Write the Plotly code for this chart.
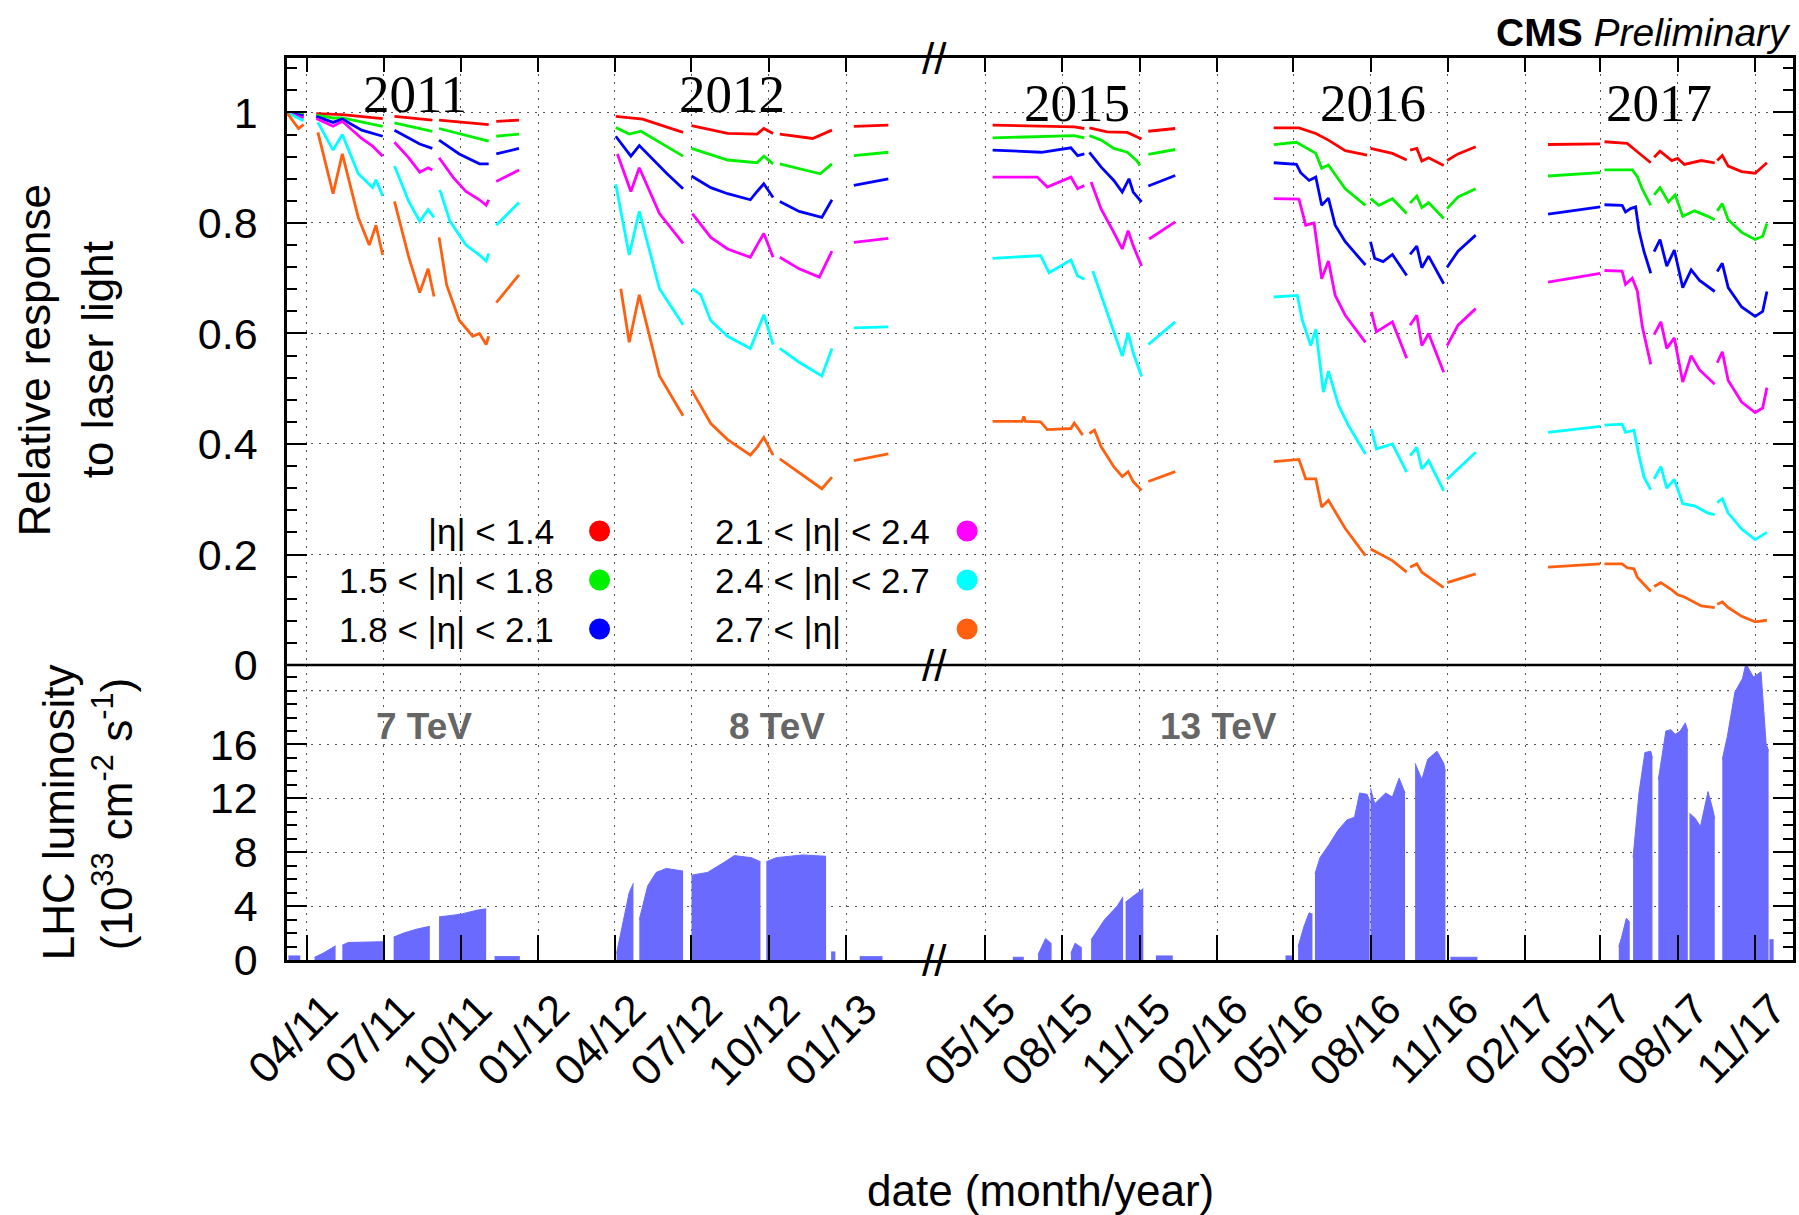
import plotly.graph_objects as go

# ---------------------------------------------------------------------------
# ECAL relative response to laser light per |eta| bin, and LHC luminosity
# ---------------------------------------------------------------------------
BIN_LABELS = ["|η| < 1.4", "1.5 < |η| < 1.8", "1.8 < |η| < 2.1",
              "2.1 < |η| < 2.4", "2.4 < |η| < 2.7", "2.7 < |η|"]
BIN_COLORS = ["#ff0000", "#00f000", "#0000ff", "#ff00ff", "#00ffff", "#ff6010"]

# (date, relative response); None separates data-taking periods
bin1_2011 = [("2011-03-08", 1.0), ("2011-03-28", 0.998), None,
             ("2011-04-12", 0.998), ("2011-05-13", 0.996), ("2011-06-30", 0.989), None,
             ("2011-07-14", 0.993), ("2011-08-28", 0.986), None,
             ("2011-09-05", 0.986), ("2011-11-03", 0.978), None,
             ("2011-11-12", 0.984), ("2011-12-09", 0.986)]
bin2_2011 = [("2011-03-08", 1.0), ("2011-03-28", 0.996), None,
             ("2011-04-12", 0.995), ("2011-05-02", 0.99), ("2011-05-13", 0.99), ("2011-06-30", 0.975), None,
             ("2011-07-14", 0.981), ("2011-08-28", 0.966), None,
             ("2011-09-05", 0.971), ("2011-11-03", 0.948), None,
             ("2011-11-12", 0.957), ("2011-12-09", 0.961)]
bin3_2011 = [("2011-03-08", 1.0), ("2011-03-28", 0.994), None,
             ("2011-04-12", 0.993), ("2011-05-02", 0.982), ("2011-05-13", 0.988), ("2011-06-05", 0.968),
             ("2011-06-30", 0.957), None,
             ("2011-07-14", 0.968), ("2011-08-13", 0.943), ("2011-08-28", 0.935), None,
             ("2011-09-05", 0.95), ("2011-09-29", 0.925), ("2011-10-23", 0.907), ("2011-11-03", 0.907), None,
             ("2011-11-12", 0.925), ("2011-12-09", 0.935)]
bin4_2011 = [("2011-03-08", 1.0), ("2011-03-28", 0.99), None,
             ("2011-04-12", 0.989), ("2011-05-02", 0.975), ("2011-05-13", 0.984), ("2011-06-05", 0.953),
             ("2011-06-18", 0.939), ("2011-06-30", 0.921), None,
             ("2011-07-14", 0.946), ("2011-07-31", 0.918), ("2011-08-13", 0.892), ("2011-08-23", 0.9),
             ("2011-08-28", 0.896), None,
             ("2011-09-05", 0.918), ("2011-09-22", 0.882), ("2011-10-07", 0.857), ("2011-10-23", 0.842),
             ("2011-10-31", 0.832), ("2011-11-03", 0.842), None,
             ("2011-11-12", 0.875), ("2011-12-09", 0.896)]
bin5_2011 = [("2011-03-08", 1.0), ("2011-03-28", 0.985), None,
             ("2011-04-14", 0.982), ("2011-05-02", 0.932), ("2011-05-13", 0.96), ("2011-06-01", 0.889),
             ("2011-06-18", 0.864), ("2011-06-22", 0.878), ("2011-06-30", 0.849), None,
             ("2011-07-14", 0.903), ("2011-07-31", 0.839), ("2011-08-13", 0.803), ("2011-08-23", 0.824),
             ("2011-08-30", 0.81), None,
             ("2011-09-06", 0.86), ("2011-09-18", 0.803), ("2011-10-07", 0.76), ("2011-10-23", 0.742),
             ("2011-10-31", 0.731), ("2011-11-03", 0.745), None,
             ("2011-11-12", 0.796), ("2011-12-09", 0.837)]
bin6_2011 = [("2011-03-08", 1.0), ("2011-03-22", 0.971), ("2011-03-28", 0.978), None,
             ("2011-04-14", 0.964), ("2011-05-02", 0.853), ("2011-05-13", 0.925), ("2011-06-01", 0.81),
             ("2011-06-14", 0.76), ("2011-06-22", 0.796), ("2011-06-30", 0.742), None,
             ("2011-07-14", 0.839), ("2011-07-31", 0.738), ("2011-08-13", 0.674), ("2011-08-23", 0.717),
             ("2011-08-30", 0.667), None,
             ("2011-09-05", 0.774), ("2011-09-14", 0.688), ("2011-09-29", 0.624), ("2011-10-15", 0.595),
             ("2011-10-23", 0.6), ("2011-10-31", 0.58), ("2011-11-03", 0.595), None,
             ("2011-11-12", 0.656), ("2011-12-09", 0.706)]

bin1_2012 = [("2012-04-02", 0.993), ("2012-05-04", 0.988), ("2012-06-21", 0.964), None,
             ("2012-07-01", 0.976), ("2012-08-13", 0.962), ("2012-09-17", 0.961), ("2012-09-25", 0.971),
             ("2012-10-06", 0.962), None,
             ("2012-10-14", 0.961), ("2012-11-22", 0.953), ("2012-12-15", 0.968), None,
             ("2013-01-10", 0.975), ("2013-02-20", 0.977)]
bin2_2012 = [("2012-04-02", 0.973), ("2012-04-18", 0.961), ("2012-05-02", 0.966), ("2012-06-21", 0.921), None,
             ("2012-07-01", 0.935), ("2012-08-13", 0.914), ("2012-09-17", 0.909), ("2012-09-25", 0.921),
             ("2012-10-06", 0.907), None,
             ("2012-10-14", 0.907), ("2012-12-01", 0.889), ("2012-12-15", 0.907), None,
             ("2013-01-10", 0.922), ("2013-02-20", 0.928)]
bin3_2012 = [("2012-04-02", 0.957), ("2012-04-20", 0.921), ("2012-04-30", 0.94), ("2012-06-02", 0.889),
             ("2012-06-21", 0.862), None,
             ("2012-07-01", 0.885), ("2012-07-24", 0.864), ("2012-08-13", 0.853), ("2012-09-09", 0.842),
             ("2012-09-17", 0.857), ("2012-09-25", 0.871), ("2012-10-06", 0.846), None,
             ("2012-10-14", 0.839), ("2012-11-06", 0.821), ("2012-12-03", 0.81), ("2012-12-15", 0.842), None,
             ("2013-01-10", 0.868), ("2013-02-20", 0.88)]
bin4_2012 = [("2012-04-04", 0.925), ("2012-04-20", 0.857), ("2012-04-30", 0.9), ("2012-05-24", 0.817),
             ("2012-06-21", 0.763), None,
             ("2012-07-02", 0.817), ("2012-07-24", 0.774), ("2012-08-13", 0.753), ("2012-09-09", 0.738),
             ("2012-09-17", 0.76), ("2012-09-25", 0.781), ("2012-10-06", 0.738), None,
             ("2012-10-14", 0.738), ("2012-11-06", 0.717), ("2012-11-30", 0.702), ("2012-12-05", 0.717),
             ("2012-12-15", 0.749), None,
             ("2013-01-10", 0.765), ("2013-02-20", 0.772)]
bin5_2012 = [("2012-04-02", 0.87), ("2012-04-08", 0.821), ("2012-04-18", 0.742), ("2012-04-30", 0.821),
             ("2012-05-24", 0.681), ("2012-06-21", 0.616), None,
             ("2012-07-02", 0.681), ("2012-07-12", 0.67), ("2012-07-24", 0.623), ("2012-08-13", 0.595),
             ("2012-09-09", 0.573), ("2012-09-17", 0.602), ("2012-09-25", 0.634), ("2012-10-06", 0.58), None,
             ("2012-10-14", 0.573), ("2012-11-06", 0.548), ("2012-12-03", 0.523), ("2012-12-15", 0.573), None,
             ("2013-01-10", 0.61), ("2013-02-20", 0.612)]
bin6_2012 = [("2012-04-08", 0.681), ("2012-04-18", 0.584), ("2012-04-30", 0.67), ("2012-05-24", 0.523),
             ("2012-06-21", 0.451), None,
             ("2012-07-01", 0.498), ("2012-07-24", 0.437), ("2012-08-13", 0.408), ("2012-09-09", 0.38),
             ("2012-09-17", 0.394), ("2012-09-25", 0.412), ("2012-10-06", 0.38), None,
             ("2012-10-14", 0.373), ("2012-11-06", 0.348), ("2012-12-03", 0.319), ("2012-12-15", 0.34), None,
             ("2013-01-10", 0.37), ("2013-02-20", 0.382)]

bin1_2015 = [("2015-05-10", 0.977), ("2015-06-16", 0.976), ("2015-08-15", 0.974), ("2015-08-27", 0.971), None,
             ("2015-09-02", 0.972), ("2015-09-23", 0.965), ("2015-10-17", 0.964), ("2015-10-24", 0.959),
             ("2015-11-03", 0.952), None,
             ("2015-11-11", 0.966), ("2015-12-13", 0.971)]
bin2_2015 = [("2015-05-10", 0.954), ("2015-08-15", 0.958), ("2015-08-27", 0.954), None,
             ("2015-09-02", 0.958), ("2015-09-16", 0.95), ("2015-10-01", 0.935), ("2015-10-17", 0.928),
             ("2015-10-28", 0.913), ("2015-11-01", 0.904), None,
             ("2015-11-11", 0.924), ("2015-12-13", 0.933)]
bin3_2015 = [("2015-05-10", 0.932), ("2015-07-07", 0.928), ("2015-08-11", 0.936), ("2015-08-19", 0.922),
             ("2015-08-27", 0.925), None,
             ("2015-09-02", 0.928), ("2015-09-16", 0.901), ("2015-10-01", 0.877), ("2015-10-11", 0.856),
             ("2015-10-19", 0.88), ("2015-10-24", 0.856), ("2015-11-03", 0.838), None,
             ("2015-11-11", 0.867), ("2015-12-13", 0.886)]
bin4_2015 = [("2015-05-10", 0.883), ("2015-07-02", 0.883), ("2015-07-14", 0.865), ("2015-08-11", 0.883),
             ("2015-08-19", 0.862), ("2015-08-27", 0.868), None,
             ("2015-09-04", 0.874), ("2015-09-16", 0.825), ("2015-10-01", 0.783), ("2015-10-11", 0.753),
             ("2015-10-18", 0.786), ("2015-10-24", 0.759), ("2015-11-03", 0.722), None,
             ("2015-11-12", 0.771), ("2015-12-13", 0.802)]
bin5_2015 = [("2015-05-10", 0.736), ("2015-07-06", 0.741), ("2015-07-16", 0.71), ("2015-08-11", 0.733),
             ("2015-08-19", 0.704), ("2015-08-27", 0.698), None,
             ("2015-09-06", 0.713), ("2015-09-16", 0.668), ("2015-10-01", 0.601), ("2015-10-11", 0.559),
             ("2015-10-18", 0.601), ("2015-10-24", 0.565), ("2015-11-03", 0.522), None,
             ("2015-11-11", 0.58), ("2015-12-13", 0.621)]
bin6_2015 = [("2015-05-10", 0.441), ("2015-06-14", 0.441), ("2015-06-16", 0.45), ("2015-06-18", 0.441),
             ("2015-07-06", 0.44), ("2015-07-14", 0.426), ("2015-08-11", 0.428), ("2015-08-15", 0.438),
             ("2015-08-25", 0.416), None,
             ("2015-09-02", 0.419), ("2015-09-08", 0.425), ("2015-09-16", 0.395), ("2015-10-01", 0.359),
             ("2015-10-11", 0.341), ("2015-10-18", 0.35), ("2015-10-24", 0.332), ("2015-11-03", 0.316), None,
             ("2015-11-11", 0.332), ("2015-12-13", 0.35)]

bin1_2016 = [("2016-04-08", 0.972), ("2016-05-08", 0.972), ("2016-05-28", 0.962), ("2016-06-12", 0.95),
             ("2016-07-02", 0.931), ("2016-07-28", 0.923), None,
             ("2016-08-01", 0.935), ("2016-08-27", 0.926), ("2016-09-13", 0.914), None,
             ("2016-09-17", 0.932), ("2016-09-25", 0.935), ("2016-10-01", 0.912), ("2016-10-09", 0.918),
             ("2016-10-27", 0.904), None,
             ("2016-10-31", 0.913), ("2016-11-13", 0.925), ("2016-12-04", 0.938)]
bin2_2016 = [("2016-04-08", 0.942), ("2016-05-05", 0.946), ("2016-05-28", 0.926), ("2016-06-04", 0.899),
             ("2016-06-12", 0.905), ("2016-07-02", 0.862), ("2016-07-26", 0.832), None,
             ("2016-08-01", 0.844), ("2016-08-11", 0.832), ("2016-08-27", 0.844), ("2016-09-13", 0.817), None,
             ("2016-09-17", 0.836), ("2016-09-25", 0.849), ("2016-10-01", 0.828), ("2016-10-09", 0.837),
             ("2016-10-27", 0.808), None,
             ("2016-10-31", 0.826), ("2016-11-13", 0.847), ("2016-12-04", 0.862)]
bin3_2016 = [("2016-04-08", 0.909), ("2016-05-05", 0.906), ("2016-05-10", 0.891), ("2016-05-20", 0.877),
             ("2016-05-28", 0.883), ("2016-06-04", 0.832), ("2016-06-12", 0.845), ("2016-06-20", 0.796),
             ("2016-07-02", 0.766), ("2016-07-26", 0.724), None,
             ("2016-08-01", 0.766), ("2016-08-06", 0.736), ("2016-08-16", 0.73), ("2016-08-27", 0.743),
             ("2016-09-13", 0.705), None,
             ("2016-09-17", 0.743), ("2016-09-25", 0.758), ("2016-10-01", 0.719), ("2016-10-09", 0.74),
             ("2016-10-27", 0.69), None,
             ("2016-10-31", 0.72), ("2016-11-13", 0.749), ("2016-12-04", 0.778)]
bin4_2016 = [("2016-04-08", 0.844), ("2016-05-08", 0.843), ("2016-05-16", 0.796), ("2016-05-26", 0.8),
             ("2016-06-04", 0.699), ("2016-06-12", 0.731), ("2016-06-20", 0.669), ("2016-07-02", 0.633),
             ("2016-07-26", 0.584), None,
             ("2016-08-02", 0.639), ("2016-08-08", 0.603), ("2016-08-27", 0.621), ("2016-09-13", 0.555), None,
             ("2016-09-17", 0.615), ("2016-09-25", 0.633), ("2016-10-01", 0.578), ("2016-10-09", 0.6),
             ("2016-10-27", 0.53), None,
             ("2016-10-31", 0.578), ("2016-11-13", 0.615), ("2016-12-04", 0.645)]
bin5_2016 = [("2016-04-08", 0.666), ("2016-05-06", 0.669), ("2016-05-12", 0.624), ("2016-05-22", 0.578),
             ("2016-05-28", 0.608), ("2016-06-06", 0.494), ("2016-06-12", 0.532), ("2016-06-24", 0.47),
             ("2016-07-06", 0.433), ("2016-07-26", 0.382), None,
             ("2016-08-02", 0.427), ("2016-08-08", 0.391), ("2016-08-27", 0.4), ("2016-09-13", 0.349), None,
             ("2016-09-17", 0.379), ("2016-09-25", 0.394), ("2016-10-01", 0.355), ("2016-10-09", 0.37),
             ("2016-10-27", 0.315), None,
             ("2016-10-31", 0.336), ("2016-11-13", 0.355), ("2016-12-04", 0.385)]
bin6_2016 = [("2016-04-08", 0.368), ("2016-05-08", 0.372), ("2016-05-16", 0.337), ("2016-05-28", 0.337),
             ("2016-06-04", 0.286), ("2016-06-12", 0.298), ("2016-07-02", 0.247), ("2016-07-26", 0.198), None,
             ("2016-08-01", 0.21), ("2016-08-27", 0.189), ("2016-09-13", 0.168), None,
             ("2016-09-17", 0.177), ("2016-09-25", 0.183), ("2016-10-01", 0.168), ("2016-10-27", 0.14), None,
             ("2016-10-31", 0.149), ("2016-11-13", 0.155), ("2016-12-04", 0.165)]

bin1_2017 = [("2017-02-28", 0.942), ("2017-05-01", 0.943), None,
             ("2017-05-06", 0.947), ("2017-06-02", 0.944), ("2017-06-14", 0.929), ("2017-06-30", 0.909), None,
             ("2017-07-04", 0.919), ("2017-07-11", 0.93), ("2017-07-25", 0.913), ("2017-08-01", 0.917),
             ("2017-08-09", 0.906), ("2017-08-29", 0.913), ("2017-09-14", 0.909), None,
             ("2017-09-17", 0.913), ("2017-09-23", 0.922), ("2017-09-30", 0.903), ("2017-10-16", 0.893),
             ("2017-11-01", 0.89), ("2017-11-15", 0.909)]
bin2_2017 = [("2017-02-28", 0.885), ("2017-05-01", 0.891), None,
             ("2017-05-06", 0.896), ("2017-06-08", 0.896), ("2017-06-14", 0.884), ("2017-06-20", 0.861),
             ("2017-06-30", 0.832), None,
             ("2017-07-04", 0.851), ("2017-07-11", 0.864), ("2017-07-21", 0.838), ("2017-07-29", 0.851),
             ("2017-08-07", 0.812), ("2017-08-21", 0.822), ("2017-09-06", 0.812), ("2017-09-14", 0.806), None,
             ("2017-09-17", 0.822), ("2017-09-23", 0.835), ("2017-09-30", 0.806), ("2017-10-16", 0.783),
             ("2017-11-01", 0.77), ("2017-11-10", 0.776), ("2017-11-15", 0.799)]
bin3_2017 = [("2017-02-28", 0.816), ("2017-05-01", 0.829), None,
             ("2017-05-06", 0.833), ("2017-05-27", 0.832), ("2017-05-31", 0.82), ("2017-06-06", 0.826),
             ("2017-06-12", 0.829), ("2017-06-16", 0.786), ("2017-06-22", 0.748), ("2017-06-30", 0.709), None,
             ("2017-07-04", 0.748), ("2017-07-11", 0.77), ("2017-07-19", 0.722), ("2017-07-28", 0.751),
             ("2017-08-07", 0.683), ("2017-08-17", 0.715), ("2017-08-27", 0.696), ("2017-09-14", 0.676), None,
             ("2017-09-17", 0.712), ("2017-09-23", 0.727), ("2017-09-30", 0.683), ("2017-10-16", 0.648),
             ("2017-11-01", 0.631), ("2017-11-10", 0.64), ("2017-11-15", 0.676)]
bin4_2017 = [("2017-02-28", 0.693), ("2017-05-01", 0.709), None,
             ("2017-05-06", 0.714), ("2017-05-27", 0.713), ("2017-05-31", 0.689), ("2017-06-08", 0.7),
             ("2017-06-14", 0.677), ("2017-06-20", 0.612), ("2017-06-30", 0.544), None,
             ("2017-07-04", 0.598), ("2017-07-12", 0.621), ("2017-07-19", 0.573), ("2017-07-28", 0.592),
             ("2017-08-07", 0.512), ("2017-08-17", 0.56), ("2017-08-27", 0.534), ("2017-09-14", 0.508), None,
             ("2017-09-17", 0.547), ("2017-09-23", 0.567), ("2017-09-30", 0.515), ("2017-10-16", 0.476),
             ("2017-11-01", 0.457), ("2017-11-10", 0.465), ("2017-11-15", 0.502)]
bin5_2017 = [("2017-02-28", 0.421), ("2017-05-01", 0.432), None,
             ("2017-05-06", 0.434), ("2017-05-27", 0.436), ("2017-05-31", 0.421), ("2017-06-10", 0.425),
             ("2017-06-16", 0.379), ("2017-06-22", 0.34), ("2017-06-30", 0.317), None,
             ("2017-07-04", 0.337), ("2017-07-12", 0.359), ("2017-07-19", 0.32), ("2017-07-28", 0.336),
             ("2017-08-07", 0.292), ("2017-08-21", 0.288), ("2017-09-06", 0.275), ("2017-09-14", 0.272), None,
             ("2017-09-17", 0.294), ("2017-09-23", 0.301), ("2017-09-30", 0.275), ("2017-10-16", 0.246),
             ("2017-11-01", 0.227), ("2017-11-15", 0.24)]
bin6_2017 = [("2017-02-28", 0.177), ("2017-05-01", 0.183), None,
             ("2017-05-06", 0.183), ("2017-05-27", 0.183), ("2017-06-02", 0.176), ("2017-06-10", 0.174),
             ("2017-06-14", 0.159), ("2017-06-30", 0.133), None,
             ("2017-07-04", 0.142), ("2017-07-12", 0.149), ("2017-07-25", 0.136), ("2017-08-01", 0.127),
             ("2017-08-09", 0.123), ("2017-08-29", 0.107), ("2017-09-14", 0.104), None,
             ("2017-09-17", 0.11), ("2017-09-23", 0.114), ("2017-09-30", 0.104), ("2017-10-16", 0.088),
             ("2017-11-01", 0.078), ("2017-11-15", 0.081)]

# LHC peak instantaneous luminosity (1e33 cm^-2 s^-1); None separates blocks of fills
lumi_2011 = [("2011-03-10", 0.3), ("2011-03-24", 0.3), None,
             ("2011-04-10", 0.2), ("2011-04-20", 0.5), ("2011-05-05", 1.05), None,
             ("2011-05-13", 1.1), ("2011-05-20", 1.3), ("2011-07-01", 1.36), None,
             ("2011-07-13", 1.7), ("2011-07-25", 2.0), ("2011-08-10", 2.3), ("2011-08-25", 2.5), None,
             ("2011-09-05", 3.2), ("2011-10-01", 3.4), ("2011-10-20", 3.7), ("2011-10-31", 3.8), None,
             ("2011-11-10", 0.25), ("2011-12-10", 0.25)]
lumi_2012 = [("2012-04-03", 0.5), ("2012-04-10", 2.5), ("2012-04-18", 5.0), ("2012-04-23", 5.7), None,
             ("2012-04-30", 3.0), ("2012-05-10", 5.5), ("2012-05-20", 6.5), ("2012-06-01", 6.8),
             ("2012-06-21", 6.6), None,
             ("2012-07-01", 6.3), ("2012-07-20", 6.5), ("2012-08-10", 7.3), ("2012-08-21", 7.75),
             ("2012-09-10", 7.6), ("2012-09-21", 7.3), None,
             ("2012-09-28", 7.3), ("2012-10-10", 7.6), ("2012-11-10", 7.8), ("2012-12-08", 7.7), None,
             ("2012-12-14", 0.6), ("2012-12-19", 0.6), None,
             ("2013-01-17", 0.25), ("2013-02-13", 0.25)]
lumi_2015 = [("2015-06-03", 0.2), ("2015-06-16", 0.2), None,
             ("2015-07-03", 0.4), ("2015-07-12", 1.6), ("2015-07-19", 1.2), None,
             ("2015-08-11", 0.5), ("2015-08-16", 1.25), ("2015-08-24", 0.9), None,
             ("2015-09-04", 1.5), ("2015-09-20", 3.0), ("2015-10-05", 4.0), ("2015-10-12", 4.7), None,
             ("2015-10-15", 4.3), ("2015-10-28", 4.9), ("2015-11-05", 5.3), None,
             ("2015-11-20", 0.3), ("2015-12-10", 0.3)]
lumi_2016 = [("2016-04-22", 0.3), ("2016-05-02", 0.3), None,
             ("2016-05-07", 1.0), ("2016-05-14", 2.5), ("2016-05-20", 3.5), ("2016-05-24", 3.4), None,
             ("2016-05-27", 6.4), ("2016-06-02", 7.6), ("2016-06-13", 8.6), ("2016-06-23", 9.6),
             ("2016-07-04", 10.4), ("2016-07-13", 10.6), ("2016-07-19", 12.4), ("2016-07-28", 12.3),
             ("2016-07-31", 11.8), None,
             ("2016-08-01", 12.75), ("2016-08-06", 11.6), ("2016-08-19", 12.4), ("2016-08-27", 12.1),
             ("2016-09-04", 13.5), ("2016-09-11", 12.4), None,
             ("2016-09-23", 14.6), ("2016-10-01", 13.4), ("2016-10-08", 14.9), ("2016-10-19", 15.5),
             ("2016-10-27", 14.6), ("2016-10-29", 14.0), None,
             ("2016-11-04", 0.2), ("2016-12-06", 0.2)]
lumi_2017 = [("2017-05-23", 1.0), ("2017-05-26", 1.6), ("2017-06-01", 3.1), ("2017-06-05", 2.8), None,
             ("2017-06-09", 7.6), ("2017-06-16", 12.4), ("2017-06-23", 15.4), ("2017-06-30", 15.5),
             ("2017-07-02", 15.0), None,
             ("2017-07-09", 13.4), ("2017-07-18", 17.0), ("2017-07-24", 17.1), ("2017-07-29", 16.75),
             ("2017-08-04", 17.0), ("2017-08-10", 17.6), ("2017-08-13", 17.0), None,
             ("2017-08-15", 10.9), ("2017-08-22", 10.5), ("2017-08-28", 9.9), ("2017-09-06", 12.5),
             ("2017-09-12", 11.1), ("2017-09-14", 10.5), None,
             ("2017-09-23", 14.9), ("2017-09-29", 16.6), ("2017-10-08", 19.9), ("2017-10-17", 20.9),
             ("2017-10-21", 22.0), ("2017-10-30", 21.0), ("2017-11-08", 21.4), ("2017-11-14", 16.1),
             ("2017-11-17", 15.5), None,
             ("2017-11-18", 1.5), ("2017-11-23", 1.5)]

# axis ticks
RUN1_TICKS = ["2011-04-01", "2011-07-01", "2011-10-01", "2012-01-01",
              "2012-04-01", "2012-07-01", "2012-10-01", "2013-01-01"]
RUN1_TICKTEXT = ["04/11", "07/11", "10/11", "01/12", "04/12", "07/12", "10/12", "01/13"]
RUN2_TICKS = ["2015-05-01", "2015-08-01", "2015-11-01", "2016-02-01", "2016-05-01", "2016-08-01",
              "2016-11-01", "2017-02-01", "2017-05-01", "2017-08-01", "2017-11-01"]
RUN2_TICKTEXT = ["05/15", "08/15", "11/15", "02/16", "05/16", "08/16",
                 "11/16", "02/17", "05/17", "08/17", "11/17"]
RESP_TICKS = [0, 0.2, 0.4, 0.6, 0.8, 1.0]
RESP_TICKTEXT = ["0", "0.2", "0.4", "0.6", "0.8", "1"]
LUMI_TICKS = [0, 4, 8, 12, 16]
LUMI_TICKTEXT = ["0", "4", "8", "12", "16"]
LUMI_TOP_GRID = 20

YEAR_LABELS = ["2011", "2012", "2015", "2016", "2017"]
ENERGY_LABELS = ["7 TeV", "8 TeV", "13 TeV"]

# ---------------------------------------------------------------------------
# page geometry (pixels)
# ---------------------------------------------------------------------------
W, H = 1799, 1215
ML, MR, MT, MB = 287, 4, 58, 255
PW, PH = W - ML - MR, H - MT - MB


def px(x):
    return (x - ML) / PW


def py(y):
    return (H - MB - y) / PH


SPLIT = px(935)      # axis break between 2013 and 2015
MID = py(665)        # boundary between the two panels

SANS = "Liberation Sans, Arial, sans-serif"
SERIF = "Liberation Serif, Times New Roman, serif"
TICK_FONT = dict(family=SANS, size=43, color="black")
GRID_COLOR, GRID_DASH, GRID_WIDTH = "#555555", "2px,6px", 1.3
GRID = dict(showgrid=True, gridcolor=GRID_COLOR, gridwidth=GRID_WIDTH, griddash=GRID_DASH)
LUMI_COLOR = "#6a6aff"


def unzip(points):
    xs, ys = [], []
    for p in points:
        if p is None:
            xs.append(None)
            ys.append(None)
        else:
            xs.append(p[0])
            ys.append(p[1])
    return xs, ys


def blocks(points):
    out, cur = [], []
    for p in points:
        if p is None:
            if cur:
                out.append(cur)
            cur = []
        else:
            cur.append(p)
    if cur:
        out.append(cur)
    return out


fig = go.Figure()

run1 = [(bin1_2011, bin1_2012), (bin2_2011, bin2_2012), (bin3_2011, bin3_2012),
        (bin4_2011, bin4_2012), (bin5_2011, bin5_2012), (bin6_2011, bin6_2012)]
run2 = [(bin1_2015, bin1_2016, bin1_2017), (bin2_2015, bin2_2016, bin2_2017),
        (bin3_2015, bin3_2016, bin3_2017), (bin4_2015, bin4_2016, bin4_2017),
        (bin5_2015, bin5_2016, bin5_2017), (bin6_2015, bin6_2016, bin6_2017)]

for i, label in enumerate(BIN_LABELS):
    a, b = run1[i]
    xs, ys = unzip(a + [None] + b)
    fig.add_trace(go.Scatter(x=xs, y=ys, xaxis="x3", yaxis="y3", mode="lines",
                             line=dict(color=BIN_COLORS[i], width=2.8),
                             connectgaps=False, name=label, hoverinfo="skip"))
    c, d, e = run2[i]
    xs, ys = unzip(c + [None] + d + [None] + e)
    fig.add_trace(go.Scatter(x=xs, y=ys, xaxis="x4", yaxis="y4", mode="lines",
                             line=dict(color=BIN_COLORS[i], width=2.8),
                             connectgaps=False, name=label, hoverinfo="skip"))

for series, xa, ya in [(lumi_2011, "x", "y"), (lumi_2012, "x", "y"),
                       (lumi_2015, "x2", "y2"), (lumi_2016, "x2", "y2"), (lumi_2017, "x2", "y2")]:
    for blk in blocks(series):
        xs, ys = unzip(blk)
        fig.add_trace(go.Scatter(x=xs, y=ys, xaxis=xa, yaxis=ya, mode="lines",
                                 fill="tozeroy", fillcolor=LUMI_COLOR,
                                 line=dict(color=LUMI_COLOR, width=1),
                                 hoverinfo="skip", showlegend=False))

xcommon = dict(type="date", showline=True, linecolor="black", linewidth=2.5,
               ticks="inside", tickcolor="black", tickwidth=1.5, zeroline=False, **GRID)

ycommon = dict(showline=True, linecolor="black", linewidth=2.5, ticks="inside",
               tickcolor="black", tickwidth=2, ticklen=20, zeroline=False, **GRID)

fig.update_layout(
    width=W, height=H,
    margin=dict(l=ML, r=MR, t=MT, b=MB),
    paper_bgcolor="white", plot_bgcolor="white",
    showlegend=False,
    font=dict(family=SANS, color="black"),
    # luminosity panel
    xaxis=dict(domain=[0, SPLIT], anchor="y", range=["2011-03-08 06:00", "2013-04-15 11:00"],
               tickvals=RUN1_TICKS, ticktext=RUN1_TICKTEXT, tickangle=-45, ticklen=25,
               tickfont=TICK_FONT, ticklabelstandoff=4, ticklabelshift=18, **xcommon),
    xaxis2=dict(domain=[SPLIT, 1], anchor="y2", range=["2015-03-01 12:00", "2017-12-16"],
                tickvals=RUN2_TICKS, ticktext=RUN2_TICKTEXT, tickangle=-45, ticklen=25,
                tickfont=TICK_FONT, ticklabelstandoff=4, ticklabelshift=18, **xcommon),
    yaxis=dict(domain=[0, MID], anchor="x", range=[0, 21.9], tickvals=LUMI_TICKS,
               ticktext=LUMI_TICKTEXT, tickfont=TICK_FONT, ticklabelstandoff=18,
               minor=dict(dtick=1, tick0=0, ticks="inside", ticklen=10, tickcolor="black",
                          tickwidth=1.5, showgrid=False), **ycommon),
    yaxis2=dict(domain=[0, MID], anchor="x2", side="right", matches="y", showticklabels=False,
                tickvals=LUMI_TICKS,
                minor=dict(dtick=1, tick0=0, ticks="inside", ticklen=10, tickcolor="black",
                           tickwidth=1.5, showgrid=False), **ycommon),
    # laser response panel
    xaxis3=dict(domain=[0, SPLIT], anchor="y3", side="top", matches="x", showticklabels=False,
                tickvals=RUN1_TICKS, ticklen=14, **xcommon),
    xaxis4=dict(domain=[SPLIT, 1], anchor="y4", side="top", matches="x2", showticklabels=False,
                tickvals=RUN2_TICKS, ticklen=14, **xcommon),
    yaxis3=dict(domain=[MID, 1], anchor="x3", range=[0, 1.0986], tickvals=RESP_TICKS,
                ticktext=RESP_TICKTEXT, tickfont=TICK_FONT, ticklabelstandoff=18,
                minor=dict(dtick=0.04, tick0=0, ticks="inside", ticklen=10, tickcolor="black",
                           tickwidth=1.5, showgrid=False), **ycommon),
    yaxis4=dict(domain=[MID, 1], anchor="x4", side="right", matches="y3", showticklabels=False,
                tickvals=RESP_TICKS,
                minor=dict(dtick=0.04, tick0=0, ticks="inside", ticklen=10, tickcolor="black",
                           tickwidth=1.5, showgrid=False), **ycommon),
)

shapes = [
    # panel separator
    dict(type="line", xref="paper", yref="paper", x0=0, x1=1, y0=MID, y1=MID,
         line=dict(color="black", width=2.5)),
    # top grid line of the luminosity panel
    dict(type="line", xref="paper", yref="y", x0=0, x1=1, y0=LUMI_TOP_GRID, y1=LUMI_TOP_GRID,
         line=dict(color=GRID_COLOR, width=GRID_WIDTH, dash=GRID_DASH), layer="between"),
    # legend area keeps the 0.2 grid line clear
    dict(type="line", xref="paper", yref="y3", x0=0.003, x1=px(1012), y0=0.2, y1=0.2,
         line=dict(color="white", width=3), layer="between"),
]

# legend: two columns of labels with coloured dots
legend_rows = [531, 580, 629]
for i, label in enumerate(BIN_LABELS):
    col, row = divmod(i, 3)
    cy = legend_rows[row]
    if col == 0:
        tx, anchor, dot_x = 556, "right", 600
    else:
        tx, anchor, dot_x = 714, "left", 968
    fig.add_annotation(text=label, xref="paper", yref="paper", x=px(tx), y=py(cy),
                       xanchor=anchor, yanchor="middle", showarrow=False,
                       font=dict(family=SANS, size=35, color="black"))
    shapes.append(dict(type="circle", xref="paper", yref="paper",
                       xsizemode="pixel", ysizemode="pixel",
                       xanchor=px(dot_x), yanchor=py(cy), x0=-10.5, x1=10.5, y0=-10.5, y1=10.5,
                       fillcolor=BIN_COLORS[i], line=dict(width=0)))

fig.update_layout(shapes=shapes)

# year labels above the curves
year_pos = [("x3", "y3", "2011-08-07", 1.033), ("x3", "y3", "2012-08-18", 1.033),
            ("x4", "y4", "2015-08-18", 1.017), ("x4", "y4", "2016-08-04", 1.017),
            ("x4", "y4", "2017-07-10", 1.017)]
for text, (xr, yr, xv, yv) in zip(YEAR_LABELS, year_pos):
    fig.add_annotation(text=text, xref=xr, yref=yr, x=xv, y=yv, showarrow=False,
                       xanchor="center", yanchor="middle",
                       font=dict(family=SERIF, size=53, color="black"))

# centre-of-mass energy labels
for text, xpix in zip(ENERGY_LABELS, [424, 778, 1220]):
    fig.add_annotation(text="<b>" + text + "</b>", xref="paper", yref="paper",
                       x=px(xpix), y=py(726), showarrow=False, xanchor="center", yanchor="middle",
                       font=dict(family=SANS, size=37, color="#666666"))

# axis break marks
for ypix in [58, 665, 960]:
    fig.add_annotation(text="//", xref="paper", yref="paper", x=SPLIT, y=py(ypix),
                       showarrow=False, xanchor="center", yanchor="middle",
                       font=dict(family=SANS, size=44, color="black"))

# axis titles
fig.add_annotation(text="Relative response", xref="paper", yref="paper", x=px(34), y=py(360),
                   textangle=-90, showarrow=False, xanchor="center", yanchor="middle",
                   font=dict(family=SANS, size=44, color="black"))
fig.add_annotation(text="to laser light", xref="paper", yref="paper", x=px(97), y=py(360),
                   textangle=-90, showarrow=False, xanchor="center", yanchor="middle",
                   font=dict(family=SANS, size=44, color="black"))
fig.add_annotation(text="LHC luminosity", xref="paper", yref="paper", x=px(58), y=py(812),
                   textangle=-90, showarrow=False, xanchor="center", yanchor="middle",
                   font=dict(family=SANS, size=44, color="black"))
fig.add_annotation(text="(10<sup>33</sup> cm<sup>-2</sup> s<sup>-1</sup>)", xref="paper", yref="paper",
                   x=px(112), y=py(814), textangle=-90, showarrow=False,
                   xanchor="center", yanchor="middle",
                   font=dict(family=SANS, size=44, color="black"))
fig.add_annotation(text="date (month/year)", xref="paper", yref="paper", x=px(1042), y=py(1190),
                   showarrow=False, xanchor="center", yanchor="middle",
                   font=dict(family=SANS, size=44, color="black"))
fig.add_annotation(text="<b>CMS</b> <i>Preliminary</i>", xref="paper", yref="paper",
                   x=1.0, y=py(32), showarrow=False, xanchor="right", yanchor="middle",
                   font=dict(family=SANS, size=39, color="black"))

fig.write_html("out.html")
